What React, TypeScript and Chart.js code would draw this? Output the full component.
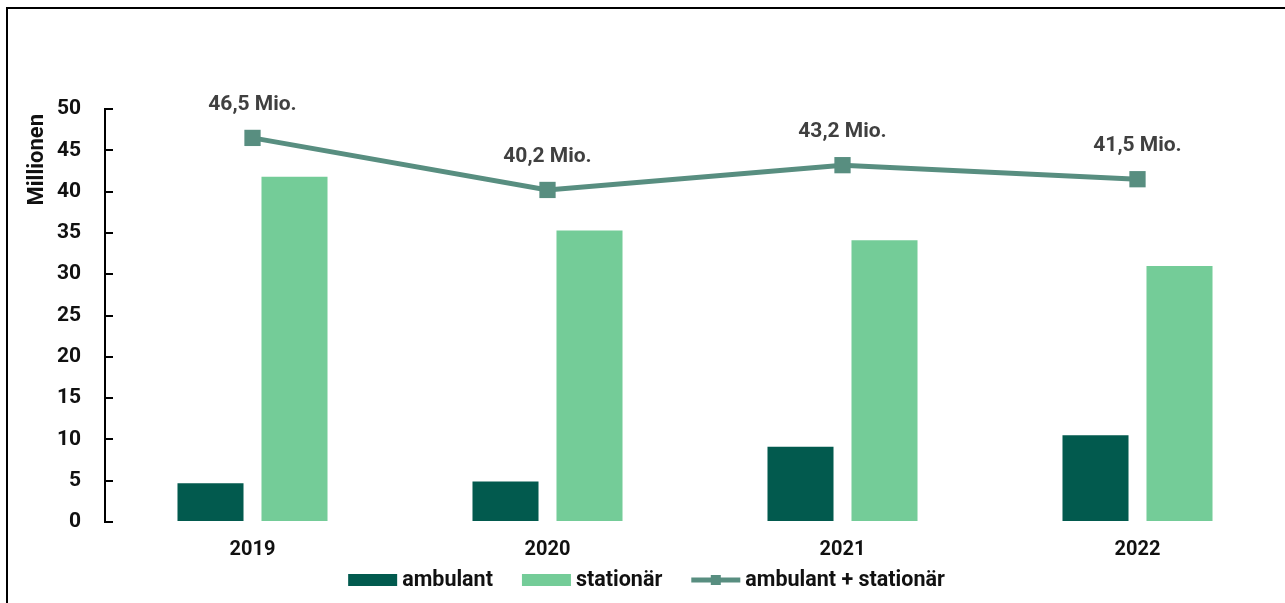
import React, { useEffect, useRef } from "react";
import { Chart, registerables } from "chart.js";

Chart.register(...registerables);

const categories = ["2019", "2020", "2021", "2022"];
const ambulantValues = [4.7, 4.9, 9.1, 10.5];
const stationaerValues = [41.8, 35.3, 34.1, 31.0];
const totalValues = [46.5, 40.2, 43.2, 41.5];
const seriesNames = ["ambulant", "stationär", "ambulant + stationär"];
const yAxisTitle = "Millionen";
const yMin = 0;
const yMax = 50;
const yStep = 5;

const COLOR_AMB = "#025A4E";
const COLOR_STAT = "#74CC98";
const COLOR_LINE = "#588E80";
const FONT = "Roboto";

const formatMio = (v: number) =>
  v.toLocaleString("de-DE", { minimumFractionDigits: 1, maximumFractionDigits: 1 }) + " Mio.";

const labelPlugin = {
  id: "totalLabels",
  afterDatasetsDraw(chart: any) {
    const ctx = chart.ctx;
    const meta = chart.getDatasetMeta(2);
    ctx.save();
    ctx.font = `bold 21px ${FONT}`;
    ctx.fillStyle = "#404040";
    ctx.textAlign = "center";
    ctx.textBaseline = "middle";
    meta.data.forEach((pt: any, i: number) => {
      ctx.fillText(formatMio(totalValues[i]), pt.x, pt.y - 33);
    });
    ctx.restore();
  },
};

const yTitlePlugin = {
  id: "yTitle",
  afterDraw(chart: any) {
    const ctx = chart.ctx;
    const top = chart.chartArea.top;
    ctx.save();
    ctx.font = `bold 22px ${FONT}`;
    ctx.fillStyle = "#111111";
    ctx.textAlign = "right";
    ctx.textBaseline = "middle";
    ctx.translate(37, top + 5);
    ctx.rotate(-Math.PI / 2);
    ctx.fillText(yAxisTitle, 0, 0);
    ctx.restore();
  },
};

const legendPlugin = {
  id: "customLegend",
  afterDraw(chart: any) {
    const ctx = chart.ctx;
    ctx.save();
    ctx.font = `bold 21.5px ${FONT}`;
    ctx.textBaseline = "middle";
    ctx.textAlign = "left";
    const boxW = 49;
    const boxH = 12;
    const gap = 5;
    const itemGap = 29;
    const items = chart.data.datasets.map((ds: any) => ({
      label: ds.label as string,
      color: (ds.type === "line" ? ds.borderColor : ds.backgroundColor) as string,
      isLine: ds.type === "line",
    }));
    const widths = items.map((it: any) => boxW + gap + ctx.measureText(it.label).width);
    const totalW = widths.reduce((a: number, b: number) => a + b, 0) + itemGap * (items.length - 1);
    let x = chart.width / 2 - totalW / 2 + 4;
    const y = chart.chartArea.bottom + 58;
    items.forEach((it: any, i: number) => {
      if (it.isLine) {
        ctx.strokeStyle = it.color;
        ctx.lineWidth = 5;
        ctx.beginPath();
        ctx.moveTo(x, y);
        ctx.lineTo(x + boxW, y);
        ctx.stroke();
        ctx.fillStyle = it.color;
        ctx.fillRect(x + boxW / 2 - 5, y - 5, 10, 10);
      } else {
        ctx.fillStyle = it.color;
        ctx.fillRect(x, y - boxH / 2, boxW, boxH);
      }
      ctx.fillStyle = "#111111";
      ctx.fillText(it.label, x + boxW + gap, y + 1);
      x += widths[i] + itemGap;
    });
    ctx.restore();
  },
};

export default function App() {
  const canvasRef = useRef<HTMLCanvasElement | null>(null);

  useEffect(() => {
    if (!canvasRef.current) return;
    Chart.defaults.font.family = FONT;
    const chart = new Chart(canvasRef.current, {
      type: "bar",
      data: {
        labels: categories,
        datasets: [
          {
            type: "bar",
            label: seriesNames[0],
            data: ambulantValues,
            backgroundColor: COLOR_AMB,
            barPercentage: 0.786,
            categoryPercentage: 0.5695,
            order: 2,
          },
          {
            type: "bar",
            label: seriesNames[1],
            data: stationaerValues,
            backgroundColor: COLOR_STAT,
            barPercentage: 0.786,
            categoryPercentage: 0.5695,
            order: 2,
          },
          {
            type: "line",
            label: seriesNames[2],
            data: totalValues,
            borderColor: COLOR_LINE,
            backgroundColor: COLOR_LINE,
            borderWidth: 5,
            pointStyle: "rect",
            pointRadius: 11.5,
            pointBorderWidth: 0,
            pointBackgroundColor: COLOR_LINE,
            tension: 0,
            clip: false,
            order: 0,
          } as any,
        ],
      },
      options: {
        responsive: false,
        animation: false,
        devicePixelRatio: 1,
        layout: { autoPadding: false, padding: { top: 109, left: 0, right: 0, bottom: 0 } },
        plugins: {
          legend: { display: false },
          tooltip: { enabled: false },
          title: { display: false },
        },
        scales: {
          x: {
            type: "category",
            offset: true,
            grid: { display: false, drawTicks: false },
            border: { display: false },
            ticks: {
              font: { family: FONT, size: 20, weight: "bold" },
              color: "#111111",
              padding: 16,
            },
            afterFit: (scale: any) => {
              scale.height = 81;
              scale.paddingLeft = 0;
              scale.paddingRight = 0;
            },
          },
          y: {
            type: "linear",
            min: yMin,
            max: yMax,
            ticks: {
              stepSize: yStep,
              font: { family: FONT, size: 21, weight: "bold" },
              color: "#111111",
              padding: 32,
            },
            grid: {
              drawOnChartArea: false,
              drawTicks: true,
              tickLength: -8,
              color: "#000000",
              lineWidth: 2,
            },
            border: { display: true, color: "#000000", width: 2 },
            title: { display: false },
            afterFit: (scale: any) => {
              scale.width = 105;
              scale.paddingLeft = 0;
              scale.paddingRight = 0;
            },
          },
        },
      },
      plugins: [labelPlugin, yTitlePlugin, legendPlugin],
    });
    return () => chart.destroy();
  }, []);

  return (
    <div
      style={{
        position: "fixed",
        left: 0,
        top: 0,
        width: 1285,
        height: 603,
        background: "#ffffff",
        overflow: "hidden",
      }}
    >
      <canvas
        ref={canvasRef}
        width={1285}
        height={603}
        style={{ position: "absolute", left: 0, top: 0, width: 1285, height: 603 }}
      />
      <div
        style={{
          position: "absolute",
          left: 6,
          top: 7,
          width: 1400,
          height: 700,
          borderTop: "2px solid #000",
          borderLeft: "2px solid #000",
          pointerEvents: "none",
        }}
      />
    </div>
  );
}
